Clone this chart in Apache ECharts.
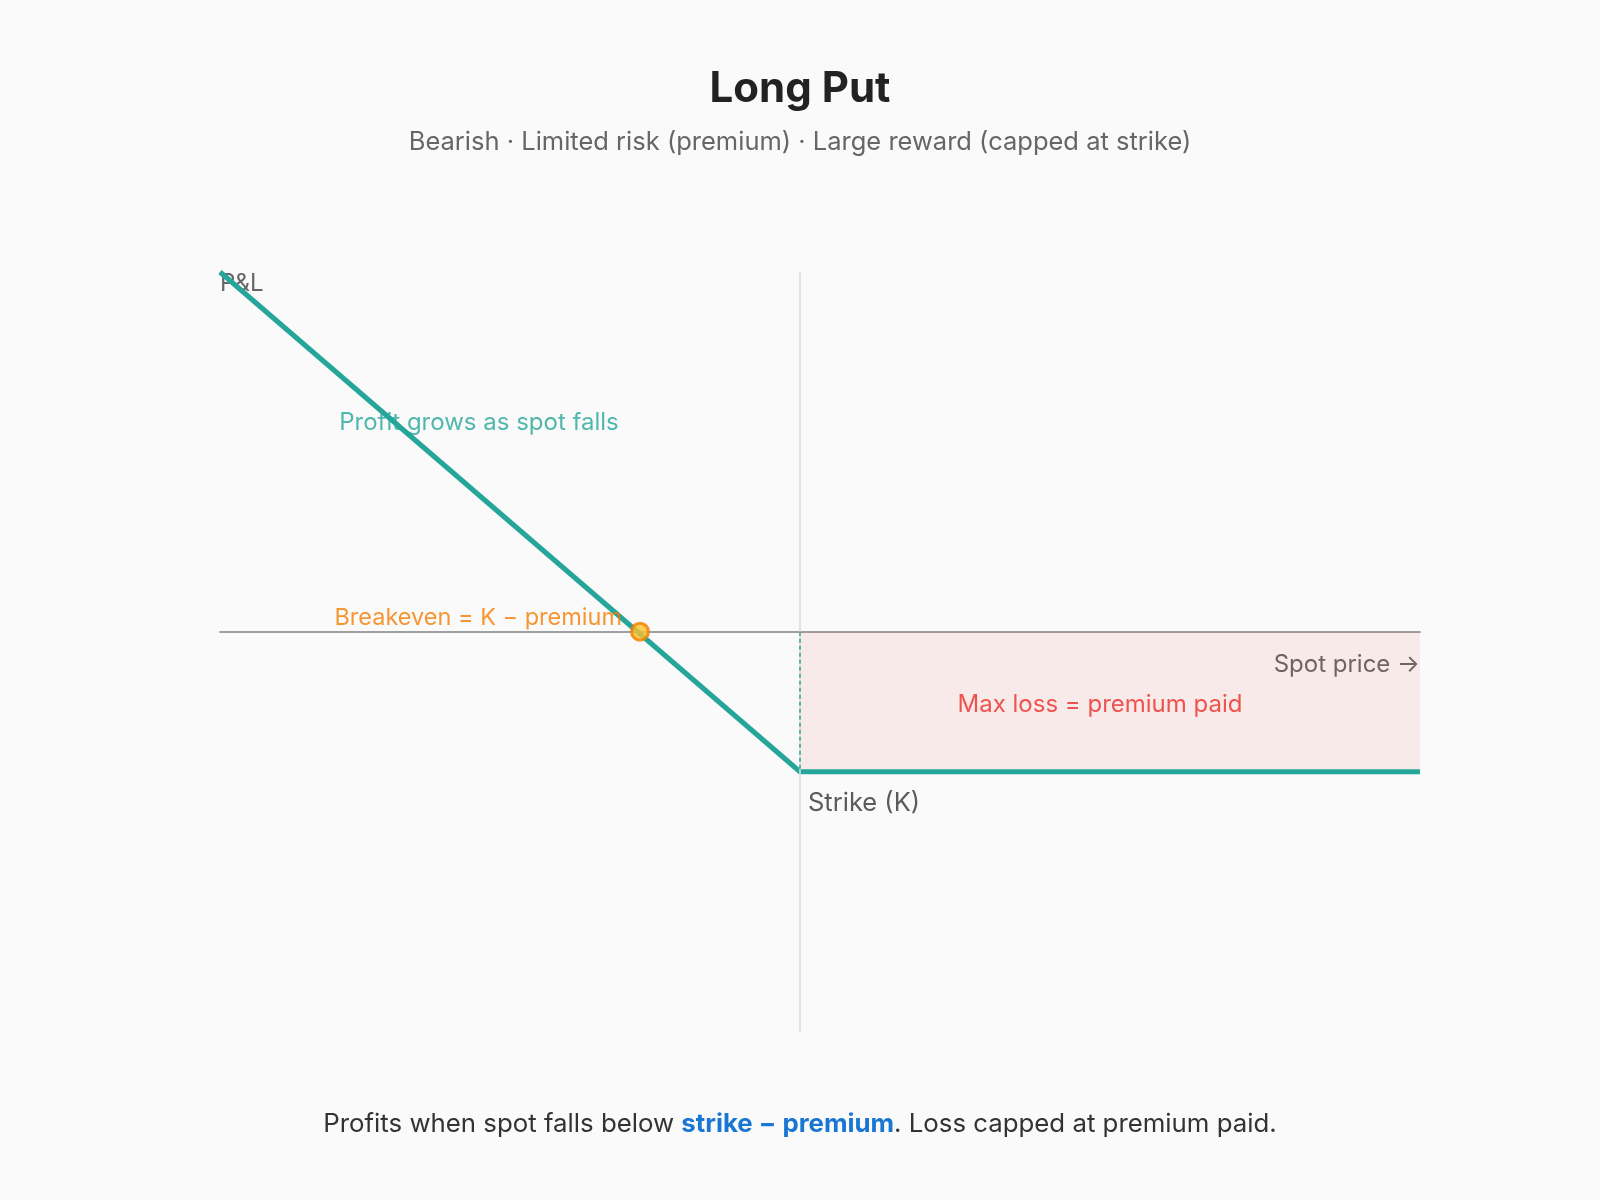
<!DOCTYPE html>
<html>
<head>
<meta charset="utf-8">
<script src="https://cdn.jsdelivr.net/npm/echarts@6/dist/echarts.min.js"></script>
<style>
  html, body { margin: 0; padding: 0; background: #fafafa; }
  #chart { width: 1600px; height: 1200px; }
</style>
</head>
<body>
<div id="chart"></div>
<script>
// ---- data ----
const spotPrices = [0, 58, 120];          // spot price points
const payoff = [41.6, -16.2, -16.2];      // P&L at those spots
const strike = 58;
const premium = 16.2;
const breakeven = [42, 0];
const xRange = [0, 120];
const yRange = [-46.3, 41.6];
const profitLabelAt = [25.9, 24.2];
const texts = {
  title: 'Long Put',
  subtitle: 'Bearish · Limited risk (premium) · Large reward (capped at strike)',
  yName: 'P&L',
  xName: 'Spot price →',
  profit: 'Profit grows as spot falls',
  breakeven: 'Breakeven = K − premium',
  maxLoss: 'Max loss = premium paid',
  strike: 'Strike (K)'
};

const TEAL = '#26a69a';
const FONT = 'Inter, "Noto Sans", sans-serif';

const chart = echarts.init(document.getElementById('chart'));
const lineData = spotPrices.map((x, i) => [x, payoff[i]]);

chart.setOption({
  backgroundColor: '#fafafa',
  animation: false,
  textStyle: { fontFamily: FONT },
  title: [
    { text: texts.title, left: 'center', top: 63,
      textStyle: { fontSize: 42, fontWeight: 'bold', color: '#222', fontFamily: FONT } },
    { text: texts.subtitle, left: 'center', top: 124,
      textStyle: { fontSize: 25.5, fontWeight: 'normal', color: '#666', fontFamily: FONT } },
    { text: '{a|Profits when spot falls below }{b|strike − premium}{a|. Loss capped at premium paid.}',
      left: 'center', top: 1106,
      textStyle: { fontFamily: FONT, fontWeight: 'normal',
        rich: {
          a: { fontSize: 25.8, color: '#333', fontWeight: 'normal', fontFamily: FONT },
          b: { fontSize: 25.8, color: '#1976d2', fontWeight: 'bold', fontFamily: FONT }
        } } }
  ],
  grid: { left: 220, right: 180, top: 272, bottom: 168 },
  xAxis: {
    type: 'value', min: xRange[0], max: xRange[1],
    axisLine: { onZero: true, lineStyle: { color: '#a0a0a0', width: 2 } },
    axisTick: { show: false }, axisLabel: { show: false }, splitLine: { show: false },
    name: texts.xName, nameLocation: 'end', nameGap: 0,
    nameTextStyle: { align: 'right', verticalAlign: 'top', padding: [21, 0, 0, 0],
      fontSize: 24, color: '#666', fontFamily: FONT }
  },
  yAxis: {
    type: 'value', min: yRange[0], max: yRange[1],
    axisLine: { show: false }, axisTick: { show: false }, axisLabel: { show: false },
    splitLine: { show: false },
    name: texts.yName, nameLocation: 'end', nameGap: 0,
    nameTextStyle: { align: 'left', verticalAlign: 'top', fontSize: 24, color: '#666', fontFamily: FONT }
  },
  series: [
    {
      type: 'line', name: 'Payoff', data: lineData, symbol: 'none', z: 4,
      lineStyle: { color: TEAL, width: 5 },
      markArea: {
        silent: true,
        itemStyle: { color: 'rgba(239,83,80,0.09)' },
        label: { show: true, position: 'inside', offset: [-10, 3], color: '#ef5350',
          fontSize: 24, fontFamily: FONT },
        data: [[{ name: texts.maxLoss, coord: [strike, 0] }, { coord: [xRange[1], -premium] }]]
      },
      markLine: {
        silent: true, symbol: 'none', label: { show: false },
        data: [
          { xAxis: strike, lineStyle: { color: '#dddddd', width: 1.5, type: 'solid' } },
          [{ coord: [strike, 0], lineStyle: { color: TEAL, width: 1.5, type: [4, 3] } },
           { coord: [strike, -premium] }]
        ]
      }
    },
    {
      type: 'scatter', name: 'Breakeven', data: [breakeven], z: 6,
      symbolSize: 17,
      itemStyle: { color: '#fbc02d', borderColor: '#f57c00', borderWidth: 3 },
      label: { show: true, formatter: texts.breakeven, position: 'left', distance: 8,
        offset: [0, -14], color: '#f57c00', fontSize: 23.5, fontFamily: FONT }
    },
    {
      type: 'scatter', name: 'labels', symbolSize: 0, silent: true, z: 5,
      data: [
        { value: profitLabelAt,
          label: { show: true, formatter: texts.profit, position: 'inside',
            color: TEAL, fontSize: 24, fontFamily: FONT } },
        { value: [strike, -premium],
          label: { show: true, formatter: texts.strike, position: 'right', distance: 8,
            offset: [0, 32], color: '#333', fontSize: 25.5, fontFamily: FONT } }
      ]
    }
  ]
});
</script>
</body>
</html>
